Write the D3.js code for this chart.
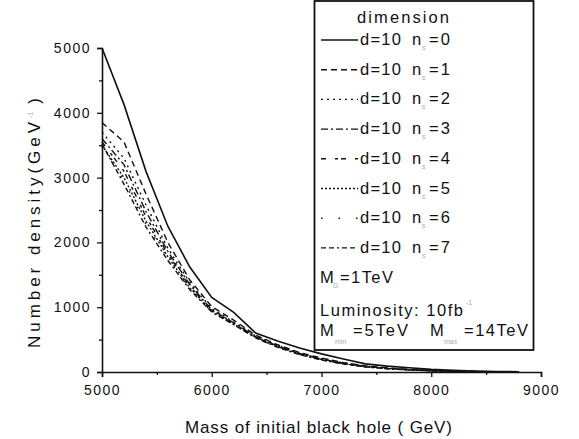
<!DOCTYPE html>
<html>
<head>
<meta charset="utf-8">
<script src="https://cdn.jsdelivr.net/npm/d3@7"></script>
<style>
  body { margin: 0; background: #fff; }
  svg { display: block; font-family: "Liberation Sans", Arial, sans-serif; }
  .ticklabel { font-size: 14px; fill: #111; letter-spacing: 1.5px; }
  .axistitle { font-size: 17px; fill: #111; }
  .legendtext { font-size: 16.5px; fill: #111; }
  .sub { font-size: 7px; fill: #aaa; }
</style>
</head>
<body>
<script>
// mass of initial black hole (GeV)
var masses = [5000, 5200, 5400, 5600, 5800, 6000, 6200, 6400, 6600, 6800,
              7000, 7200, 7400, 7600, 7800, 8000, 8200, 8400, 8600, 8800];

// number density, one list per n (d = 10)
var n0 = [5000, 4130, 3100, 2250, 1620, 1150, 920, 600, 480, 370, 280, 200, 125, 90, 65, 40, 25, 15, 8, 3];
var n1 = [3850, 3550, 2750, 2000, 1420, 1010, 800, 570, 420, 300, 215, 145, 95, 62, 40, 24, 14, 8, 4, 1];
var n2 = [3700, 3300, 2580, 1910, 1380, 980, 770, 555, 410, 290, 205, 140, 90, 58, 37, 22, 13, 7, 3, 1];
var n3 = [3600, 3200, 2480, 1860, 1350, 960, 760, 545, 400, 285, 200, 135, 88, 56, 36, 21, 12, 6, 3, 1];
var n4 = [3550, 3100, 2400, 1820, 1320, 950, 750, 540, 395, 280, 195, 130, 85, 54, 34, 20, 11, 6, 3, 1];
var n5 = [3500, 3000, 2330, 1780, 1300, 940, 740, 535, 390, 275, 190, 128, 82, 52, 33, 19, 11, 5, 2, 1];
var n6 = [3480, 2950, 2280, 1750, 1280, 930, 735, 530, 385, 270, 188, 125, 80, 50, 32, 18, 10, 5, 2, 1];
var n7 = [3520, 2900, 2240, 1720, 1270, 925, 730, 525, 380, 268, 185, 122, 78, 49, 31, 17, 10, 5, 2, 1];

var seriesValues = [n0, n1, n2, n3, n4, n5, n6, n7];
var seriesNames = ["0", "1", "2", "3", "4", "5", "6", "7"];
var dashes = ["none", "6,4", "2,4", "7,3,2,3", "5,9,3,3", "2,2", "1.5,16", "5,3,5,3,2,3"];

var xTicks = [5000, 6000, 7000, 8000, 9000];
var xMinor = [5500, 6500, 7500, 8500];
var yTicks = [0, 1000, 2000, 3000, 4000, 5000];
var yMinor = [500, 1500, 2500, 3500, 4500];

var width = 579, height = 439;

var svg = d3.select("body").append("svg")
  .attr("width", width)
  .attr("height", height);

var x = d3.scaleLinear().domain([5000, 9000]).range([102, 541]);
var y = d3.scaleLinear().domain([0, 5000]).range([372, 48]);

// curves
var line = d3.line()
  .x(function(d) { return x(d[0]); })
  .y(function(d) { return y(d[1]); });

svg.append("g")
  .selectAll("path.curve")
  .data(seriesValues)
  .enter()
  .append("path")
  .attr("class", "curve")
  .attr("fill", "none")
  .attr("stroke", "#111")
  .attr("stroke-width", function(d, i) { return i === 0 ? 1.6 : 1.4; })
  .attr("stroke-dasharray", function(d, i) { return dashes[i]; })
  .attr("d", function(vals) {
    return line(masses.map(function(m, j) { return [m, vals[j]]; }));
  });

// axes
svg.append("g")
  .attr("transform", "translate(0," + y(0) + ")")
  .call(d3.axisBottom(x).tickValues(xTicks).tickSize(5).tickPadding(8).tickFormat(d3.format("d")));
svg.append("g")
  .attr("transform", "translate(0," + y(0) + ")")
  .call(d3.axisBottom(x).tickValues(xMinor).tickSize(3).tickFormat(""))
  .select(".domain").remove();

svg.append("g")
  .attr("transform", "translate(" + x(5000) + ",0)")
  .call(d3.axisLeft(y).tickValues(yTicks).tickSize(5).tickPadding(6).tickFormat(d3.format("d")));
svg.append("g")
  .attr("transform", "translate(" + x(5000) + ",0)")
  .call(d3.axisLeft(y).tickValues(yMinor).tickSize(3).tickFormat(""))
  .select(".domain").remove();

svg.selectAll(".domain").attr("stroke", "#111").attr("stroke-width", 1.6);
svg.selectAll(".tick line").attr("stroke", "#111").attr("stroke-width", 1.3);
svg.selectAll(".tick text").attr("class", "ticklabel").attr("fill", "#111");

// axis titles
svg.append("text")
  .attr("class", "axistitle")
  .attr("x", 185)
  .attr("y", 433)
  .attr("textLength", 267)
  .attr("lengthAdjust", "spacing")
  .text("Mass of initial black hole ( GeV)");

var ytitle = svg.append("text")
  .attr("class", "axistitle")
  .attr("transform", "translate(40,348) rotate(-90)")
  .attr("x", 0)
  .attr("y", 0);
ytitle.append("tspan").attr("textLength", 226).attr("lengthAdjust", "spacing").text("Number density(GeV");
ytitle.append("tspan").attr("class", "sub").attr("dy", -7).text("-1");
ytitle.append("tspan").attr("dy", 7).attr("dx", 8).text(")");

// legend
var legendSelector = svg.append("g");

legendSelector.append("rect")
  .attr("x", 314.5)
  .attr("y", 1)
  .attr("width", 219)
  .attr("height", 349)
  .attr("fill", "#fff")
  .attr("stroke", "#111")
  .attr("stroke-width", 1.8);

legendSelector.append("text")
  .attr("class", "legendtext")
  .attr("x", 357)
  .attr("y", 23)
  .attr("textLength", 92)
  .attr("lengthAdjust", "spacing")
  .text("dimension");

var legend = legendSelector
  .selectAll("g.legenditem")
  .data(seriesNames)
  .enter()
  .append("g")
  .attr("class", "legenditem")
  .attr("transform", function(d, i) {
    return "translate(0," + (45 + i * 29.7) + ")";
  });

legend.append("line")
  .attr("x1", 321)
  .attr("x2", 358)
  .attr("y1", -5)
  .attr("y2", -5)
  .attr("stroke", "#111")
  .attr("stroke-width", function(d, i) { return i === 0 ? 1.6 : 1.4; })
  .attr("stroke-dasharray", function(d, i) { return dashes[i]; });

legend.append("text")
  .attr("class", "legendtext")
  .attr("x", 360)
  .attr("textLength", 41)
  .attr("lengthAdjust", "spacing")
  .text("d=10");
legend.append("text")
  .attr("class", "legendtext")
  .attr("x", 412)
  .text("n");
legend.append("text")
  .attr("class", "sub")
  .attr("x", 422)
  .attr("y", 5)
  .text("s");
legend.append("text")
  .attr("class", "legendtext")
  .attr("x", 429)
  .attr("textLength", 21)
  .attr("lengthAdjust", "spacing")
  .text(function(d) { return "=" + d; });

// M_D line
legendSelector.append("text").attr("class", "legendtext").attr("x", 320).attr("y", 283).text("M");
legendSelector.append("text").attr("class", "sub").attr("x", 333).attr("y", 288).text("D");
legendSelector.append("text").attr("class", "legendtext").attr("x", 340).attr("y", 283)
  .attr("textLength", 53).attr("lengthAdjust", "spacing").text("=1TeV");

// luminosity
legendSelector.append("text").attr("class", "legendtext").attr("x", 320).attr("y", 316)
  .attr("textLength", 143).attr("lengthAdjust", "spacing").text("Luminosity: 10fb");
legendSelector.append("text").attr("class", "sub").attr("x", 466).attr("y", 305).text("-1");

// M_min / M_max
legendSelector.append("text").attr("class", "legendtext").attr("x", 320).attr("y", 336).text("M");
legendSelector.append("text").attr("class", "sub").attr("x", 335).attr("y", 344).text("min");
legendSelector.append("text").attr("class", "legendtext").attr("x", 353).attr("y", 336)
  .attr("textLength", 55).attr("lengthAdjust", "spacing").text("=5TeV");
legendSelector.append("text").attr("class", "legendtext").attr("x", 430).attr("y", 336).text("M");
legendSelector.append("text").attr("class", "sub").attr("x", 444).attr("y", 344).text("max");
legendSelector.append("text").attr("class", "legendtext").attr("x", 464).attr("y", 336)
  .attr("textLength", 64).attr("lengthAdjust", "spacing").text("=14TeV");
</script>
</body>
</html>
